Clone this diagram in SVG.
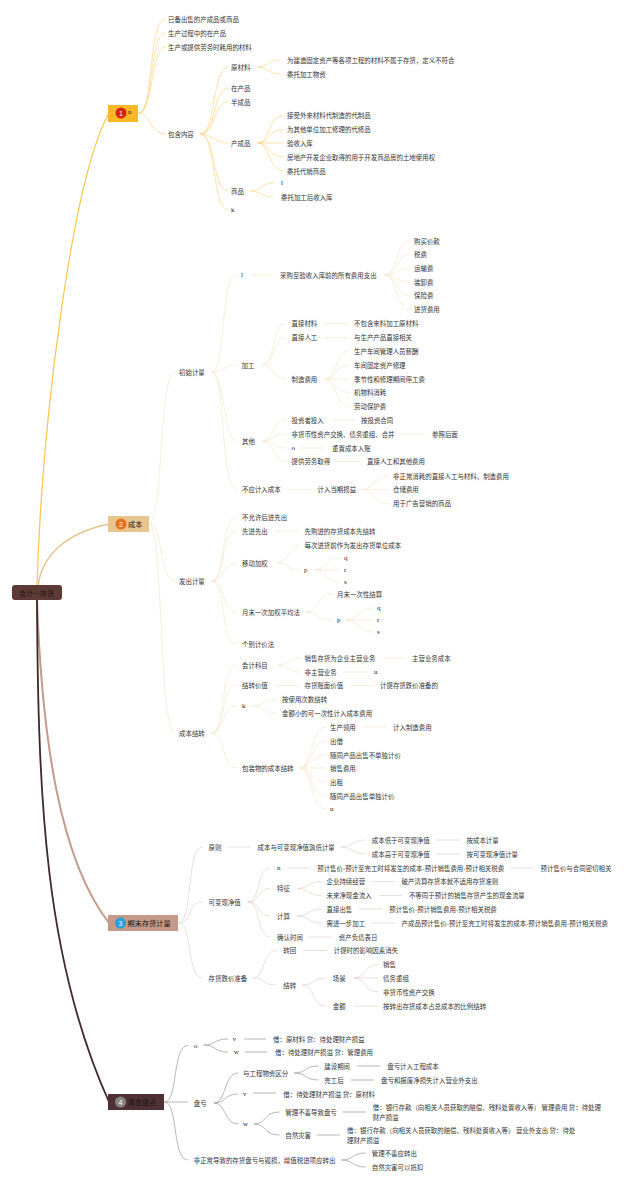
<svg xmlns="http://www.w3.org/2000/svg" width="640" height="1185" viewBox="0 0 640 1185">
<style>
text{font-family:"Noto Sans CJK SC","Liberation Sans",sans-serif;font-size:6.45px;fill:#333;dominant-baseline:central}
.s{font-family:"Liberation Serif",serif;font-size:7px;fill:#222}
.t{font-size:7.2px;fill:#1c1414}
.w{fill:#fff;text-anchor:middle;font-family:"Liberation Sans",sans-serif;font-size:7px}
#connectors path{fill:none;stroke-linecap:round}
.a{stroke:#fdd58a;stroke-width:.7}
.b{stroke:#f5e6cb;stroke-width:.7}
.c{stroke:#e2d2cb;stroke-width:.7}
.d{stroke:#9a9a9a;stroke-width:.7}
</style>
<rect width="640" height="1185" fill="#fff"/>
<g id="connectors">
<path d="M37 586C42 420 72 180 109 113" stroke="#fbc54d" stroke-width="1.2"/>
<path d="M38 586C42 555 66 533 109 524" stroke="#e8c48f" stroke-width="1.5"/>
<path d="M37 600C42 740 60 860 109 923" stroke="#c49a8a" stroke-width="2"/>
<path d="M37 600C38 800 45 960 109 1102" stroke="#3e2a2a" stroke-width="1.8"/>
<path class="a" d="M139 113C154 113 148 19 165 19M139 113C154 113 149 33 165 33M139 113C154 113 150 47 165 47M139 113C150 113 150 134 165 134M201 134C216 134 212 67 228 67M201 134C216 134 213 88 228 88M201 134C216 134 213 102 228 102M201 134C212 134 214 143 228 143M201 134C216 134 212 191 228 191M201 134C216 134 212 210 228 210M258 67C268 67 268 60 280 60M258 67C268 67 268 74 280 74M258 143C270 143 268 115.6 283 115.6M258 143C270 143 268 129.5 283 129.5M258 143H283M258 143C270 143 268 157 283 157M258 143C270 143 268 171 283 171M251 191C261 191 261 183 273 183M251 191C261 191 261 197 273 197"/>
<path class="b" d="M149 524C164 524 158 372 175 372M149 524C164 524 158 581 175 581M149 524C164 524 158 733 175 733M212 372C226 372 220 275 236 275M212 372C224 372 224 365 236 365M212 372C224 372 224 441 236 441M212 372C226 372 220 489.5 236 489.5M252 275H272M385 275C398 275 395 241 409 241M385 275C398 275 395 254.6 409 254.6M385 275C398 275 395 268.3 409 268.3M385 275C398 275 395 282 409 282M385 275C398 275 395 295.7 409 295.7M385 275C398 275 395 309.5 409 309.5M263 365C275 365 272 323.6 285 323.6M263 365C275 365 272 337.6 285 337.6M263 365C274 365 273 379 285 379M324 323.6H348M324 337.6H348M325 379C337 379 335 351 349 351M325 379C337 379 335 365 349 365M325 379H349M325 379C337 379 335 392.6 349 392.6M325 379C337 379 335 406.5 349 406.5M263 441C274 441 273 420 285 420M263 441C274 441 273 434 285 434M263 441C274 441 273 448 285 448M263 441C274 441 273 461.5 285 461.5M332 420H354M402 434H425M300 448H324M336 461.5H358M288 489.5H312M362 489.5C375 489.5 373 476 388 476M362 489.5H388M362 489.5C375 489.5 373 503.5 388 503.5M212 581C226 581 220 517 236 517M212 581C226 581 220 531 236 531M212 581C225 581 222 563 236 563M212 581C225 581 222 612 236 612M212 581C226 581 220 644 236 644M275 531H298M278 563C289 563 288 545 300 545M278 563C289 563 288 570 300 570M315 570C327 570 325 558 338 558M315 570H338M315 570C327 570 325 582 338 582M306 612C319 612 317 594 332 594M306 612C319 612 317 620 332 620M346 620C359 620 357 608 372 608M346 620H372M346 620C359 620 357 632 372 632M212 733C226 733 220 665 236 665M212 733C226 733 220 685.5 236 685.5M212 733C225 733 222 706 236 706M212 733C225 733 222 768 236 768M278 665C289 665 288 658 300 658M278 665C289 665 288 672 300 672M383 658H404M344 672H368M277 685.5H298M351 685.5H372M252 706C264 706 262 699.5 276 699.5M252 706C264 706 262 713 276 713M300 768C313 768 310 727 325 727M300 768C313 768 310 741 325 741M300 768C313 768 310 755 325 755M300 768H325M300 768C313 768 310 782 325 782M300 768C313 768 310 796 325 796M300 768C313 768 310 809 325 809M364 727H386"/>
<path class="c" transform="translate(100 0) scale(1.0295 1) translate(-100 0)" d="M177 923C190 923 184 847 199 847M177 923C190 923 184 902 199 902M177 923C190 923 184 978 199 978M224 847H246M334 847C346 847 344 840 358 840M334 847C346 847 344 854 358 854M427 840H449M427 854H449M244 902C256 902 252 868 265 868M244 902C256 902 252 888.5 265 888.5M244 902C256 902 252 916 265 916M244 902C256 902 252 937 265 937M282 868H304M499 868H521M292 888.5C303 888.5 302 881.5 315 881.5M292 888.5C303 888.5 302 895.5 315 895.5M364 881.5H386M371 895.5H393M292 916C303 916 302 909 315 909M292 916C303 916 302 923 315 923M352 909H374M364 923H386M303 937H325M249 978C261 978 257 950.5 271 950.5M249 978C261 978 257 985 271 985M298 950.5H320M297 985C309 985 305 978 319 978M297 985C309 985 305 1006 319 1006M347 978C359 978 356 964.5 370 964.5M347 978H370M347 978C359 978 356 992 370 992M347 1006H369"/>
<path class="d" transform="translate(100 0) scale(1.0295 1) translate(-100 0)" d="M163 1102C176 1102 170 1045.5 185 1045.5M163 1102H185M163 1102C176 1102 170 1160 185 1160M201 1045C213 1045 210 1039 224 1039M201 1045C213 1045 210 1052 224 1052M240 1039H261M241 1052H262M211 1103C223 1103 220 1073 234 1073M211 1103C223 1103 220 1094 234 1094M211 1103C223 1103 220 1124 234 1124M289 1073C301 1073 298 1066 312 1066M289 1073C301 1073 298 1080 312 1080M350 1066H372M344 1080H366M249 1093H271M250 1124C262 1124 259 1112 274 1112M250 1124C262 1124 259 1135 274 1135M336 1112H358M311 1135H333M335 1160C347 1160 344 1153 358 1153M335 1160C347 1160 344 1167 358 1167"/>
</g>
<g id="root"><rect x="12" y="585" width="50" height="15" rx="3" fill="#5c3a36"/><text class="t" x="19" y="593">会计—存货</text></g>
<g id="b1"><rect x="108" y="105" width="30" height="17" fill="#fdb827"/><circle cx="121" cy="113" r="5.5" fill="#d8230f"/><text class="w" x="121" y="113">1</text><text class="s" x="128" y="112">n</text></g>
<g id="b2"><rect x="108" y="516" width="41" height="16" fill="#e8c48f"/><circle cx="121" cy="524" r="5.5" fill="#e8701a"/><text class="w" x="121" y="524">2</text><text class="t" x="128" y="524">成本</text></g>
<g id="b3"><rect x="108" y="915" width="70" height="16" fill="#c49a8a"/><circle cx="120.5" cy="923" r="5.5" fill="#2a9fd8"/><text class="w" x="120.5" y="923">3</text><text class="t" x="127.5" y="923">期末存货计量</text></g>
<g id="b4"><rect x="108" y="1094" width="56" height="16" fill="#4f3034"/><circle cx="120.5" cy="1102" r="5.5" fill="#8a8482"/><text class="w" x="120.5" y="1102">4</text><text class="t" x="127.5" y="1102">清查盘点</text></g>
<g id="n101"><text x="168" y="19">已备出售的产成品或商品</text></g>
<g id="n102"><text x="168" y="33">生产过程中的在产品</text></g>
<g id="n103"><text x="168" y="47">生产或提供劳务时耗用的材料</text></g>
<g id="n104"><text x="168" y="134">包含内容</text></g>
<g id="n105"><text x="231" y="67">原材料</text></g>
<g id="n106"><text x="287" y="60">为建造固定资产等各项工程的材料不属于存货，定义不符合</text></g>
<g id="n107"><text x="287" y="74">委托加工物资</text></g>
<g id="n108"><text x="231" y="88">在产品</text></g>
<g id="n109"><text x="231" y="102">半成品</text></g>
<g id="n110"><text x="231" y="143">产成品</text></g>
<g id="n111"><text x="287" y="115.6">接受外来材料代制造的代制品</text></g>
<g id="n112"><text x="287" y="129.5">为其他单位加工修理的代修品</text></g>
<g id="n113"><text x="287" y="143">验收入库</text></g>
<g id="n114"><text x="287" y="157">房地产开发企业取得的用于开发商品房的土地使用权</text></g>
<g id="n115"><text x="287" y="171">委托代销商品</text></g>
<g id="n116"><text x="231" y="191">商品</text></g>
<g id="n117"><text class="s" x="281" y="183">l</text></g>
<g id="n118"><text x="281" y="197">委托加工后收入库</text></g>
<g id="n119"><text class="s" x="231" y="210">k</text></g>
<g id="n201"><text x="179" y="372">初始计量</text></g>
<g id="n202"><text class="s" x="241" y="275">l</text></g>
<g id="n203"><text x="280" y="275">采购至验收入库前的所有费用支出</text></g>
<g id="n204"><text x="414" y="241">购买价款</text></g>
<g id="n205"><text x="414" y="254.6">税费</text></g>
<g id="n206"><text x="414" y="268.3">运输费</text></g>
<g id="n207"><text x="414" y="282">装卸费</text></g>
<g id="n208"><text x="414" y="295.7">保险费</text></g>
<g id="n209"><text x="414" y="309.5">进货费用</text></g>
<g id="n210"><text x="241.5" y="365">加工</text></g>
<g id="n211"><text x="291.5" y="323.6">直接材料</text></g>
<g id="n212"><text x="354" y="323.6">不包含来料加工原材料</text></g>
<g id="n213"><text x="291.5" y="337.6">直接人工</text></g>
<g id="n214"><text x="354" y="337.6">与生产产品直接相关</text></g>
<g id="n215"><text x="291.5" y="379">制造费用</text></g>
<g id="n216"><text x="354" y="351">生产车间管理人员薪酬</text></g>
<g id="n217"><text x="354" y="365">车间固定资产修理</text></g>
<g id="n218"><text x="354" y="379">季节性和修理期间停工费</text></g>
<g id="n219"><text x="354" y="392.6">机物料消耗</text></g>
<g id="n220"><text x="354" y="406.5">劳动保护费</text></g>
<g id="n221"><text x="242" y="441">其他</text></g>
<g id="n222"><text x="291.5" y="420">投资者投入</text></g>
<g id="n223"><text x="361" y="420">按投资合同</text></g>
<g id="n224"><text x="291.5" y="434">非货币性资产交换、债务重组、合并</text></g>
<g id="n225"><text x="432" y="434">参照后面</text></g>
<g id="n226"><text class="s" x="291.5" y="448">o</text></g>
<g id="n227"><text x="332" y="448">重置成本入账</text></g>
<g id="n228"><text x="291.5" y="461.5">提供劳务取得</text></g>
<g id="n229"><text x="367" y="461.5">直接人工和其他费用</text></g>
<g id="n230"><text x="242" y="489.5">不应计入成本</text></g>
<g id="n231"><text x="317.5" y="489.5">计入当期损益</text></g>
<g id="n232"><text x="393" y="476">非正常消耗的直接人工与材料、制造费用</text></g>
<g id="n233"><text x="393" y="489.5">仓储费用</text></g>
<g id="n234"><text x="393" y="503.5">用于广告营销的商品</text></g>
<g id="n235"><text x="179" y="581">发出计量</text></g>
<g id="n236"><text x="242" y="517">不允许后进先出</text></g>
<g id="n237"><text x="242" y="531">先进先出</text></g>
<g id="n238"><text x="304.5" y="531">先购进的存货成本先结转</text></g>
<g id="n239"><text x="242" y="563">移动加权</text></g>
<g id="n240"><text x="304.5" y="545">每次进货前作为发出存货单位成本</text></g>
<g id="n241"><text class="s" x="304" y="570">p</text></g>
<g id="n242"><text class="s" x="344" y="558">q</text></g>
<g id="n243"><text class="s" x="344" y="570">r</text></g>
<g id="n244"><text class="s" x="344" y="582">s</text></g>
<g id="n245"><text x="242" y="612">月末一次加权平均法</text></g>
<g id="n246"><text x="337" y="594">月末一次性结算</text></g>
<g id="n247"><text class="s" x="337" y="620">p</text></g>
<g id="n248"><text class="s" x="377" y="608">q</text></g>
<g id="n249"><text class="s" x="377" y="620">r</text></g>
<g id="n250"><text class="s" x="377" y="632">s</text></g>
<g id="n251"><text x="242" y="644">个别计价法</text></g>
<g id="n252"><text x="179" y="733">成本结转</text></g>
<g id="n253"><text x="242" y="665">会计科目</text></g>
<g id="n254"><text x="304.5" y="658">销售存货为企业主营业务</text></g>
<g id="n255"><text x="412" y="658">主营业务成本</text></g>
<g id="n256"><text x="304.5" y="672">非主营业务</text></g>
<g id="n257"><text class="s" x="374" y="672">u</text></g>
<g id="n258"><text x="242" y="685.5">结转价值</text></g>
<g id="n259"><text x="304.5" y="685.5">存货账面价值</text></g>
<g id="n260"><text x="380" y="685.5">计提存货跌价准备的</text></g>
<g id="n261"><text class="s" x="242" y="706">k</text></g>
<g id="n262"><text x="282" y="699.5">按使用次数结转</text></g>
<g id="n263"><text x="282" y="713">金额小的可一次性计入成本费用</text></g>
<g id="n264"><text x="242" y="768">包装物的成本结转</text></g>
<g id="n265"><text x="330" y="727">生产领用</text></g>
<g id="n266"><text x="393" y="727">计入制造费用</text></g>
<g id="n267"><text x="330" y="741">出借</text></g>
<g id="n268"><text x="330" y="755">随同产品出售不单独计价</text></g>
<g id="n269"><text x="330" y="768">销售费用</text></g>
<g id="n270"><text x="330" y="782">出租</text></g>
<g id="n271"><text x="330" y="796">随同产品出售单独计价</text></g>
<g id="n272"><text class="s" x="330" y="809">u</text></g>
<g id="n301"><text x="208.6" y="847">原则</text></g>
<g id="n302"><text x="257.5" y="847">成本与可变现净值孰低计量</text></g>
<g id="n303"><text x="371.8" y="840">成本低于可变现净值</text></g>
<g id="n304"><text x="466.5" y="840">按成本计量</text></g>
<g id="n305"><text x="371.8" y="854">成本高于可变现净值</text></g>
<g id="n306"><text x="466.5" y="854">按可变现净值计量</text></g>
<g id="n307"><text x="208.6" y="902">可变现净值</text></g>
<g id="n308"><text class="s" x="277.1" y="868">n</text></g>
<g id="n309"><text x="317.2" y="868">预计售价-预计至完工时将发生的成本-预计销售费用-预计相关税费</text></g>
<g id="n310"><text x="540.6" y="868">预计售价与合同密切相关</text></g>
<g id="n311"><text x="277.1" y="888.5">特征</text></g>
<g id="n312"><text x="326.5" y="881.5">企业持续经营</text></g>
<g id="n313"><text x="401.6" y="881.5">破产清算存货本就不适用存货准则</text></g>
<g id="n314"><text x="326.5" y="895.5">未来净现金流入</text></g>
<g id="n315"><text x="408.9" y="895.5">不等同于预计的销售存货产生的现金流量</text></g>
<g id="n316"><text x="277.1" y="916">计算</text></g>
<g id="n317"><text x="326.5" y="909">直接出售</text></g>
<g id="n318"><text x="389.3" y="909">预计售价-预计销售费用-预计相关税费</text></g>
<g id="n319"><text x="326.5" y="923">需进一步加工</text></g>
<g id="n320"><text x="401.6" y="923">产成品预计售价-预计至完工时将发生的成本-预计销售费用-预计相关税费</text></g>
<g id="n321"><text x="277.1" y="937">确认时间</text></g>
<g id="n322"><text x="338.8" y="937">资产负债表日</text></g>
<g id="n323"><text x="208.6" y="978">存货跌价准备</text></g>
<g id="n324"><text x="283.3" y="950.5">转回</text></g>
<g id="n325"><text x="333.7" y="950.5">计提时的影响因素消失</text></g>
<g id="n326"><text x="283.3" y="985">结转</text></g>
<g id="n327"><text x="332.7" y="978">场景</text></g>
<g id="n328"><text x="383.1" y="964.5">销售</text></g>
<g id="n329"><text x="383.1" y="978">债务重组</text></g>
<g id="n330"><text x="383.1" y="992">非货币性资产交换</text></g>
<g id="n331"><text x="332.7" y="1006">金额</text></g>
<g id="n332"><text x="383.1" y="1006">按转出存货成本占总成本的比例结转</text></g>
<g id="n401"><text class="s" x="193.7" y="1045.5">o</text></g>
<g id="n402"><text class="s" x="232.8" y="1039">v</text></g>
<g id="n403"><text x="273" y="1039">借：原材料 贷：待处理财产损益</text></g>
<g id="n404"><text class="s" x="233.8" y="1052">w</text></g>
<g id="n405"><text x="275" y="1052">借：待处理财产损溢 贷：管理费用</text></g>
<g id="n406"><text x="193.7" y="1103">盘亏</text></g>
<g id="n407"><text x="243.1" y="1073">与工程物资区分</text></g>
<g id="n408"><text x="324.3" y="1066">建设期间</text></g>
<g id="n409"><text x="387.2" y="1066">盘亏计入工程成本</text></g>
<g id="n410"><text x="324.3" y="1080">完工后</text></g>
<g id="n411"><text x="381" y="1080">盘亏和报废净损失计入营业外支出</text></g>
<g id="n412"><text class="s" x="243.1" y="1094">v</text></g>
<g id="n413"><text x="283.3" y="1094">借：待处理财产损溢 贷：原材料</text></g>
<g id="n414"><text class="s" x="243.1" y="1124">w</text></g>
<g id="n415"><text x="285.3" y="1112">管理不善导致盘亏</text></g>
<g id="n416"><text x="372.8" y="1107">借：银行存款（向相关人员获取的赔偿、残料处置收入等） 管理费用 贷：待处理</text><text x="372.8" y="1117">财产损溢</text></g>
<g id="n417"><text x="285.3" y="1135">自然灾害</text></g>
<g id="n418"><text x="347.1" y="1130">借：银行存款（向相关人员获取的赔偿、残料处置收入等） 营业外支出 贷：待处</text><text x="347.1" y="1140">理财产损溢</text></g>
<g id="n419"><text x="193.7" y="1160">非正常导致的存货盘亏与毁损，增值税进项应转出</text></g>
<g id="n420"><text x="371.8" y="1153">管理不善应转出</text></g>
<g id="n421"><text x="371.8" y="1167">自然灾害可以抵扣</text></g>
</svg>
